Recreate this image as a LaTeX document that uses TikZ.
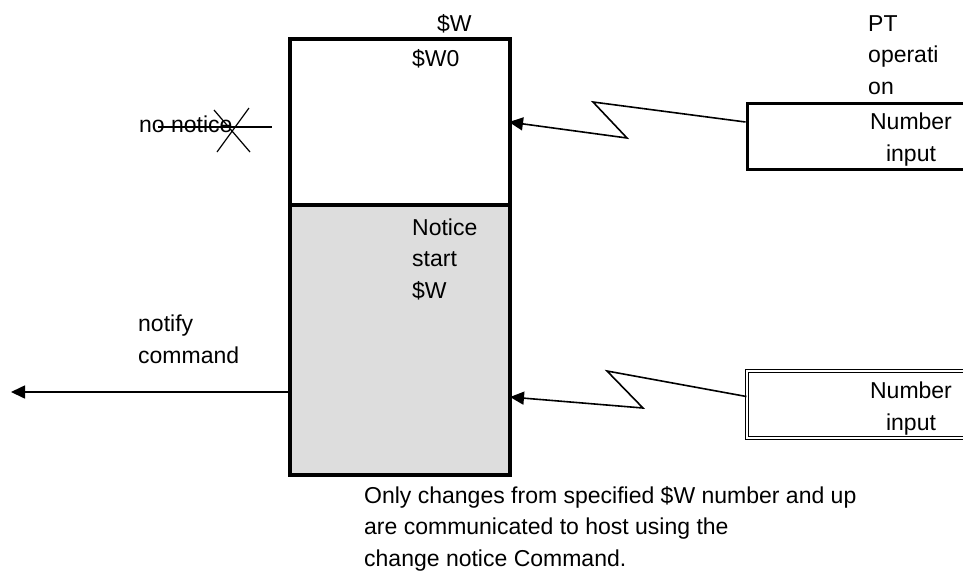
\documentclass[tikz,border=0pt]{standalone}
\usepackage{fontspec}
\setmainfont{Liberation Sans}
\usetikzlibrary{arrows.meta}
\definecolor{noticegray}{RGB}{221,221,221}

\begin{document}
\begin{tikzpicture}[x=1pt,y=-1pt,
    txt/.style={font=\fontsize{23}{31.5}\selectfont, inner sep=0pt, align=left},
    ctr/.style={txt, align=center},
    reg/.style={draw, line width=4pt, minimum width=220pt, inner sep=0pt},
    inbox/.style={draw, minimum width=240pt, minimum height=66pt, inner sep=0pt},
    tip/.style={-{Triangle[length=14pt,width=13pt]}, line width=1.6pt}]
\useasboundingbox (0,0) rectangle (963,574);
% $W register area
\node[reg, fill=noticegray, minimum height=270pt] (lower) at (400,340) {};
\node[reg, fill=white, minimum height=166pt] (upper) at (400,122) {};
\node[txt, anchor=base west] (wtop) at (437,31) {\$W};
\node[txt, anchor=base west] (wzero) at (412,66) {\$W0};
\node[txt, anchor=base west] (nstart) at (412,298) {Notice\\start\\\$W};
% PT inputs
\node[txt, anchor=base west] (pt) at (868,94) {PT\\operati\\on};
\node[inbox, line width=3pt] (in1) at (867,136) {};
\node[ctr, anchor=base] (in1txt) at (911,161) {Number\\input};
\node[inbox, double, line width=1.2pt, double distance=1.6pt, minimum height=67pt] (in2) at (867,404.5) {};
\node[ctr, anchor=base] (in2txt) at (911,430) {Number\\input};
\coordinate (hit1) at (509,122);
\coordinate (hit2) at (510,397);
\draw[tip] ([yshift=14pt]in1.west) -- (593,102) -- (627,138) -- (hit1);
\draw[tip] ([yshift=8pt]in2.west) -- (607,371) -- (643,408) -- (hit2);
% left side
\node[txt, anchor=base west] (nonote) at (139,132) {no notice};
\draw[line width=1.6pt] (158,127) -- (272,127);
\draw[line width=1.2pt] (214,110) -- (250,152) (249,108) -- (217,152);
\node[txt, anchor=base west] (notify) at (138,363) {notify\\command};
\coordinate (host) at (11,392);
\draw[tip] (lower.west |- host) -- (host);
% remark
\node[txt, anchor=base west] (remark) at (364,566) {Only changes from specified \$W number and up\\are communicated to host using the\\change notice Command.};
\end{tikzpicture}
\end{document}
